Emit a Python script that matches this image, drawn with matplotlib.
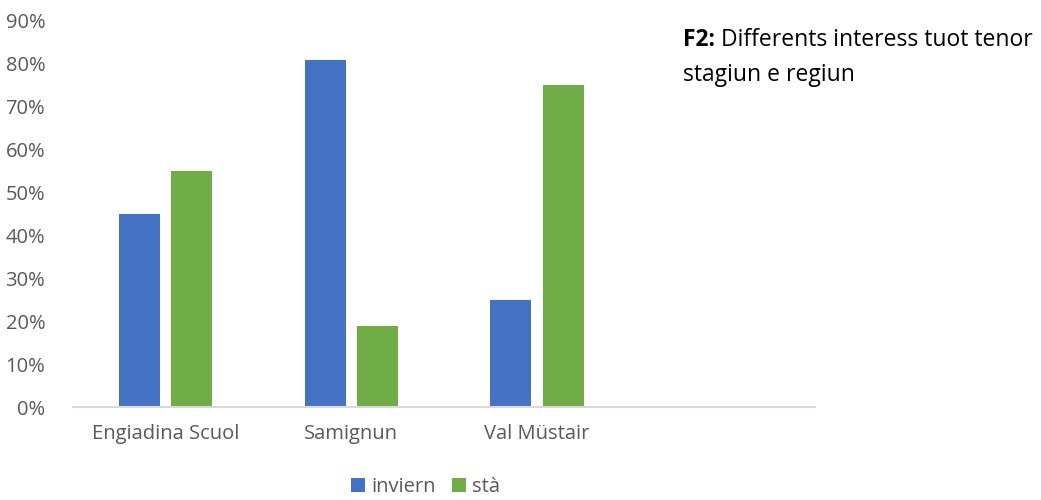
import matplotlib
matplotlib.use("Agg")
import matplotlib.pyplot as plt
from matplotlib.ticker import FuncFormatter
import numpy as np

categories = ["Engiadina Scuol", "Samignun", "Val Müstair", ""]
inviern = [45, 81, 25, None]
sta = [55, 19, 75, None]
series_names = ["inviern", "stà"]
yticks = [0, 10, 20, 30, 40, 50, 60, 70, 80, 90]
title_bold = "F2:"
title_rest = " Differents interess tuot tenor"
title_line2 = "stagiun e regiun"

plt.rcParams['font.family'] = ['Open Sans', 'DejaVu Sans']

fig = plt.figure(figsize=(10.41, 5.0), dpi=100)
ax = fig.add_axes([0.0701, 0.1854, 0.7129, 0.7726])

x = np.arange(len(categories))
w = 0.221
off = 0.1415
iv = [v if v is not None else 0 for v in inviern]
sv = [v if v is not None else 0 for v in sta]
ax.bar(x - off, iv, width=w, color="#4472C4", label=series_names[0])
ax.bar(x + off, sv, width=w, color="#70AD47", label=series_names[1])

ax.set_xlim(-0.5, len(categories) - 0.5)
ax.set_ylim(0, 90)
ax.set_yticks(yticks)
ax.yaxis.set_major_formatter(FuncFormatter(lambda v, p: f"{int(v)}%"))
ax.set_xticks(x)
ax.set_xticklabels(categories)
ax.tick_params(axis='both', length=0, labelsize=14.5, labelcolor="#595959")
ax.tick_params(axis='y', pad=20)
ax.tick_params(axis='x', pad=12)
for s in ["top", "right", "left"]:
    ax.spines[s].set_visible(False)
ax.spines["bottom"].set_color("#D9D9D9")
ax.spines["bottom"].set_linewidth(1.5)

leg = fig.legend(loc="center", bbox_to_anchor=(0.409, 0.026), ncol=2, frameon=False,
                 fontsize=14.5, handlelength=0.7, handleheight=0.7,
                 handletextpad=0.3, columnspacing=0.8, borderaxespad=0)
for t in leg.get_texts():
    t.set_color("#595959")

t1 = fig.text(683/1041, 1 - 40/500, title_bold, fontsize=16.5, fontweight="bold",
              va="center", ha="left", color="black")
ax.annotate(title_rest, xy=(1, 0), xycoords=t1, va="bottom", ha="left",
            fontsize=16.5, color="black", annotation_clip=False)
fig.text(683/1041, 1 - 75/500, title_line2, fontsize=16.5, va="center", ha="left",
         color="black")
fig.savefig("out.png", dpi=100)
